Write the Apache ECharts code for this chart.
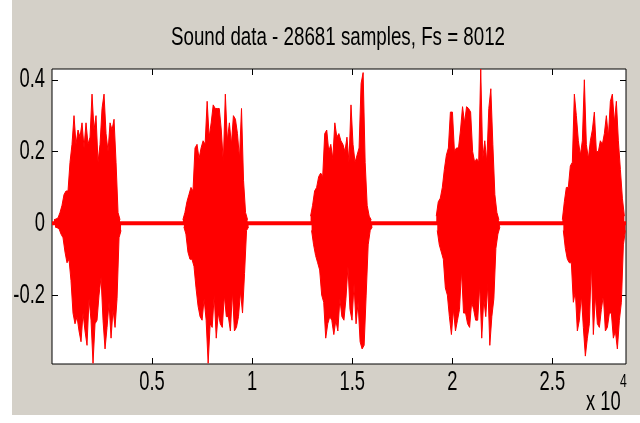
<!DOCTYPE html>
<html>
<head>
<meta charset="utf-8">
<script src="https://cdn.jsdelivr.net/npm/echarts@6/dist/echarts.min.js"></script>
<style>html,body{margin:0;padding:0;background:#fff}#c{width:640px;height:423px}</style>
</head>
<body>
<div id="c"></div>
<script>
// ---- data ----
const titleText = 'Sound data - 28681 samples, Fs = 8012';
const nSamples = 28681;
const xTickValues = [5000, 10000, 15000, 20000, 25000];
const xTickLabels = ['0.5', '1', '1.5', '2', '2.5'];
const yTickValues = [-0.2, 0, 0.2, 0.4];
const yTickLabels = ['-0.2', '0', '0.2', '0.4'];
const yMin = -0.392, yMax = 0.43;

// envelope of each burst: start sample, step (samples), upper and lower extremes
const burst1Start = 100, burst1Step = 100;
const burst1Upper = [0.01,0.012,0.015,0.03,0.05,0.08,0.09,0.09,0.17,0.22,0.30,0.22,0.26,0.24,0.28,0.21,0.28,0.22,0.24,0.36,0.26,0.30,0.17,0.22,0.32,0.36,0.25,0.20,0.28,0.26,0.29,0.17,0.03,0.01];
const burst1Lower = [-0.01,-0.012,-0.015,-0.03,-0.04,-0.08,-0.11,-0.10,-0.16,-0.25,-0.28,-0.26,-0.30,-0.33,-0.25,-0.30,-0.34,-0.21,-0.27,-0.39,-0.28,-0.27,-0.20,-0.15,-0.27,-0.35,-0.29,-0.22,-0.32,-0.24,-0.29,-0.21,-0.04,-0.02];

const burst2Start = 6540, burst2Step = 101;
const burst2Upper = [0.01,0.03,0.06,0.08,0.10,0.09,0.21,0.22,0.18,0.21,0.23,0.22,0.34,0.24,0.28,0.33,0.32,0.32,0.32,0.26,0.17,0.36,0.23,0.28,0.22,0.30,0.29,0.25,0.18,0.32,0.12,0.03,0.01];
const burst2Lower = [-0.01,-0.03,-0.08,-0.10,-0.10,-0.12,-0.18,-0.23,-0.26,-0.27,-0.21,-0.27,-0.39,-0.28,-0.29,-0.20,-0.32,-0.25,-0.28,-0.29,-0.20,-0.26,-0.26,-0.30,-0.19,-0.30,-0.29,-0.26,-0.19,-0.25,-0.14,-0.02,-0.01];

const burst3Start = 12920, burst3Step = 101;
const burst3Upper = [0.02,0.05,0.09,0.10,0.13,0.14,0.13,0.25,0.26,0.20,0.22,0.18,0.28,0.24,0.25,0.23,0.22,0.20,0.24,0.17,0.33,0.22,0.17,0.19,0.21,0.39,0.42,0.17,0.05,0.02,0.01];
const burst3Lower = [-0.02,-0.06,-0.09,-0.11,-0.13,-0.20,-0.22,-0.32,-0.28,-0.26,-0.27,-0.31,-0.27,-0.30,-0.21,-0.26,-0.27,-0.21,-0.12,-0.24,-0.27,-0.17,-0.28,-0.22,-0.33,-0.35,-0.34,-0.20,-0.06,-0.02,-0.01];

const burst4Start = 19200, burst4Step = 101;
const burst4Upper = [0.02,0.06,0.07,0.10,0.15,0.19,0.21,0.31,0.31,0.20,0.21,0.21,0.26,0.325,0.28,0.325,0.32,0.31,0.20,0.17,0.18,0.17,0.43,0.18,0.23,0.17,0.32,0.375,0.22,0.08,0.03,0.01];
const burst4Lower = [-0.02,-0.06,-0.08,-0.10,-0.18,-0.20,-0.26,-0.31,-0.24,-0.30,-0.27,-0.24,-0.13,-0.25,-0.25,-0.28,-0.29,-0.22,-0.24,-0.27,-0.27,-0.17,-0.32,-0.21,-0.26,-0.17,-0.34,-0.26,-0.21,-0.07,-0.03,-0.01];

const burst5Start = 25500, burst5Step = 100;
const burst5Upper = [0.01,0.06,0.10,0.10,0.16,0.17,0.36,0.30,0.23,0.19,0.23,0.40,0.22,0.18,0.23,0.26,0.31,0.20,0.20,0.23,0.22,0.25,0.30,0.24,0.34,0.36,0.28,0.34,0.23,0.15,0.07,0.02];
const burst5Lower = [-0.02,-0.07,-0.10,-0.11,-0.11,-0.22,-0.19,-0.30,-0.27,-0.20,-0.29,-0.37,-0.32,-0.28,-0.11,-0.31,-0.20,-0.28,-0.29,-0.24,-0.20,-0.30,-0.29,-0.25,-0.25,-0.32,-0.30,-0.35,-0.27,-0.22,-0.06,-0.02];

// silent stretches: low-level noise floor
const silence = [[0, 0], [nSamples, 0]];

// ---- build series ----
function pts(start, step, vals, offset) {
  return vals.map((v, i) => [start + i * step + offset, v]);
}
const burstDefs = [
  [burst1Start, burst1Step, burst1Upper, burst1Lower],
  [burst2Start, burst2Step, burst2Upper, burst2Lower],
  [burst3Start, burst3Step, burst3Upper, burst3Lower],
  [burst4Start, burst4Step, burst4Upper, burst4Lower],
  [burst5Start, burst5Step, burst5Upper, burst5Lower]
];

const FONT = "'Liberation Sans', Arial, sans-serif";
const RED = '#ff0000';
const SQ = 0.68; // horizontal squeeze for the narrow screen font

const chart = echarts.init(document.getElementById('c'), null, {renderer: 'canvas'});
const tickStyle = {show: true, inside: true, length: 6, lineStyle: {color: '#000', width: 1}};

const series = [{
  type: 'line', data: silence, symbol: 'none', silent: true,
  lineStyle: {color: RED, width: 4}, z: 2
}];
burstDefs.forEach(([start, step, up, lo]) => {
  [[up, 0], [lo, step / 2]].forEach(([vals, off]) => series.push({
    type: 'line', data: pts(start, step, vals, off), symbol: 'none', sampling: null, silent: true,
    lineStyle: {color: RED, width: 1}, areaStyle: {color: RED, opacity: 1, origin: 'auto'}, z: 3
  }));
});

chart.setOption({
  animation: false,
  backgroundColor: '#d4d0c8',
  grid: {left: 52, right: 14, top: 69, bottom: 59, show: true,
         backgroundColor: '#ffffff', borderColor: '#000', borderWidth: 1},
  xAxis: [{
    type: 'value', min: 0, max: nSamples, position: 'bottom',
    axisLine: {show: false, onZero: false},
    axisTick: Object.assign({customValues: xTickValues}, tickStyle),
    axisLabel: {show: false}, splitLine: {show: false}
  }, {
    type: 'value', min: 0, max: nSamples, position: 'top',
    axisLine: {show: false, onZero: false},
    axisTick: Object.assign({customValues: xTickValues}, tickStyle),
    axisLabel: {show: false}, splitLine: {show: false}
  }],
  yAxis: [{
    type: 'value', min: yMin, max: yMax, position: 'left',
    axisLine: {show: false, onZero: false},
    axisTick: Object.assign({customValues: yTickValues}, tickStyle),
    axisLabel: {show: false}, splitLine: {show: false}
  }, {
    type: 'value', min: yMin, max: yMax, position: 'right',
    axisLine: {show: false, onZero: false},
    axisTick: Object.assign({customValues: yTickValues}, tickStyle),
    axisLabel: {show: false}, splitLine: {show: false}
  }],
  series: series
});

// tick labels placed through the axes' own scales, drawn in a narrow face
const graphics = [
  {type: 'rect', shape: {x: 0, y: 0, width: 12, height: 423}, style: {fill: '#ffffff'}, silent: true},
  {type: 'rect', shape: {x: 0, y: 415, width: 640, height: 8}, style: {fill: '#ffffff'}, silent: true},
  {type: 'text', x: 338, y: 38, scaleX: 0.75, silent: true,
   style: {text: titleText, fill: '#000', font: '25px ' + FONT, textAlign: 'center', textVerticalAlign: 'middle'}}
];
const gridRect = chart.getModel().getComponent('grid', 0).coordinateSystem.getRect();
const xLabelY = gridRect.y + gridRect.height + 19;
xTickValues.forEach((v, i) => {
  const px = chart.convertToPixel({xAxisIndex: 0}, v);
  graphics.push({type: 'text', x: px, y: xLabelY, scaleX: SQ, silent: true,
    style: {text: xTickLabels[i], fill: '#000', font: '27px ' + FONT, textAlign: 'center', textVerticalAlign: 'middle'}});
});
yTickValues.forEach((v, i) => {
  const py = chart.convertToPixel({yAxisIndex: 0}, v);
  graphics.push({type: 'text', x: gridRect.x - 7, y: py, scaleX: SQ, silent: true,
    style: {text: yTickLabels[i], fill: '#000', font: '27px ' + FONT, textAlign: 'right', textVerticalAlign: 'middle'}});
});
const xRight = gridRect.x + gridRect.width;
graphics.push({type: 'text', x: xRight - 40, y: xLabelY + 20, scaleX: SQ, silent: true,
  style: {text: 'x 10', fill: '#000', font: '27px ' + FONT, textAlign: 'left', textVerticalAlign: 'middle'}});
graphics.push({type: 'text', x: xRight - 6, y: xLabelY - 1, scaleX: SQ, silent: true,
  style: {text: '4', fill: '#000', font: '18px ' + FONT, textAlign: 'left', textVerticalAlign: 'middle'}});
chart.setOption({graphic: graphics});
</script>
</body>
</html>
